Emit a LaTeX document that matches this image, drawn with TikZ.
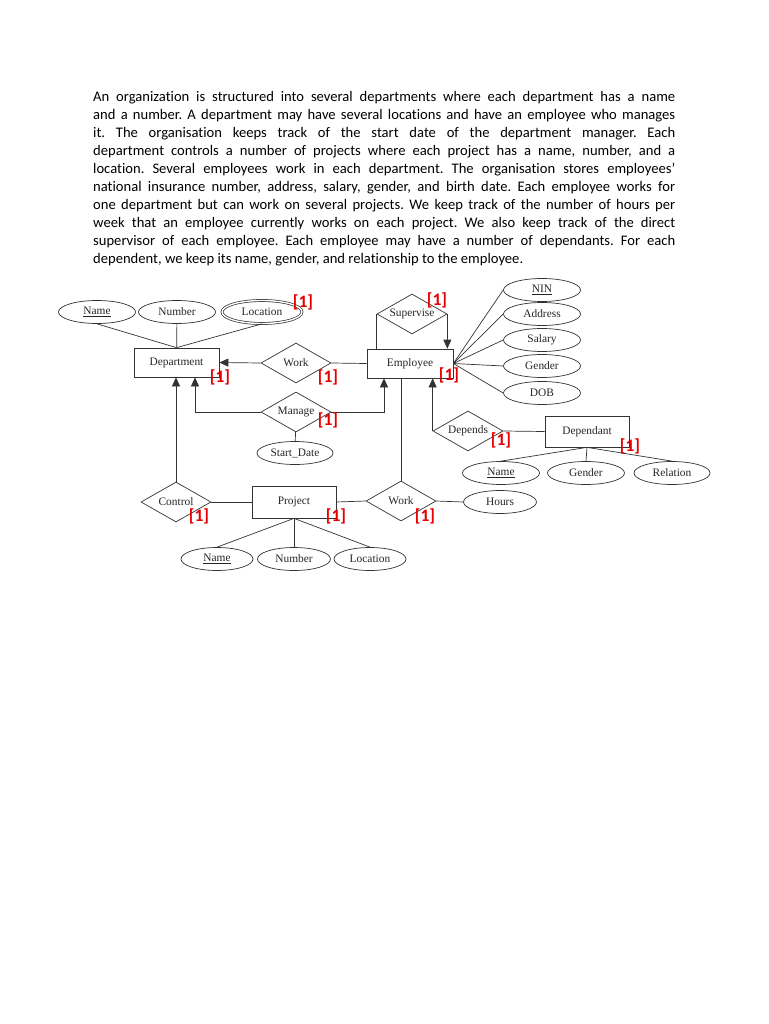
\documentclass[tikz,border=0pt]{standalone}
\usepackage{fontspec}
\setmainfont{Carlito}[Ligatures=NoCommon]
\newfontfamily\erfont{Liberation Serif}
\usetikzlibrary{positioning,arrows.meta,shapes.geometric}

\begin{document}
\begin{tikzpicture}[x=1pt, y=-1pt,
  para/.style = {anchor=north west, text width=582pt, align=justify,
                 inner sep=0pt, font=\frenchspacing\fontsize{14.6}{17.95}\selectfont},
  ent/.style  = {draw=black!80, line width=0.7pt, minimum width=85pt,
                 minimum height=29pt, inner sep=0pt, text=black!85,
                 font=\erfont\fontsize{11.4}{13}\selectfont},
  rel/.style  = {ent, diamond, aspect=1.75, minimum width=70pt,
                 minimum height=40pt},
  att/.style  = {ent, ellipse, minimum width=77pt, minimum height=23pt},
  multi/.style= {att, double, double distance=1.4pt, minimum width=80pt},
  tag/.style  = {text=red!90!black, inner sep=0pt,
                 font=\bfseries\fontsize{17.5}{17.5}\selectfont},
  e/.style    = {draw=black!80, line width=0.7pt},
  arr/.style  = {e, -{Triangle[length=9pt,width=8pt]}}]

\fill[white] (0,0) rectangle (768,1024);

% --- task text --------------------------------------------------------
\node[para] (txt) at (93,91.5) {An organization is structured into several departments where each department has a name\linebreak
and a number. A department may have several locations and have an employee who manages\linebreak
it. The organisation keeps track of the start date of the department manager. Each\linebreak
department controls a number of projects where each project has a name, number, and a\linebreak
location. Several employees work in each department. The organisation stores employees’\linebreak
national insurance number, address, salary, gender, and birth date. Each employee works for\linebreak
one department but can work on several projects. We keep track of the number of hours per\linebreak
week that an employee currently works on each project. We also keep track of the direct\linebreak
supervisor of each employee. Each employee may have a number of dependants. For each\linebreak
dependent, we keep its name, gender, and relationship to the employee.};

% --- entities ---------------------------------------------------------
\node[ent] (dept) at (176.5,362.5) {Department};
\node[ent, minimum width=86pt] (emp) at (410,363.5) {Employee};
\node[ent, minimum width=84pt, minimum height=32pt] (proj) at (294,502) {Project};
\node[ent, minimum width=84pt, minimum height=31pt] (depd) at (587,431.5) {Dependant};

% --- relationships ----------------------------------------------------
\node[rel] (work)    at (296,363) {Work};
\node[rel] (sup)     at (412,314) {Supervise};
\node[rel] (manage)  at (296,412) {Manage};
\node[rel] (depends) at (468,431) {Depends};
\node[rel] (control) at (176,502) {Control};
\node[rel] (work2)   at (401,501) {Work};

% --- attributes -------------------------------------------------------
\node[att]   (dname) at (97,312)  {\underline{Name}};
\node[att]   (dnum)  at (177,312) {Number};
\node[multi] (dloc)  at (262,312) {Location};
\node[att] (nin)  at (542,290) {\underline{NIN}};
\node[att] (addr) at (542,314) {Address};
\node[att] (sal)  at (542,340) {Salary};
\node[att] (egen) at (542,366) {Gender};
\node[att] (dob)  at (542,393) {DOB};
\node[att, minimum width=76pt] (sdate) at (295,453) {Start\_Date};
\node[att, minimum width=73pt] (hours) at (500,502) {Hours};
\node[att, minimum width=72pt] (pname) at (217,559) {\underline{Name}};
\node[att, minimum width=73pt] (pnum)  at (294,559) {Number};
\node[att, minimum width=72pt] (ploc)  at (370,559) {Location};
\node[att] (dpname) at (501,473) {\underline{Name}};
\node[att] (dpgen)  at (586,473) {Gender};
\node[att, minimum width=76pt] (dprel) at (672,473) {Relation};

% --- edges ------------------------------------------------------------
\draw[e] (dname.south) -- (dept.north);
\draw[e] (dnum) -- (dept);
\draw[e] (dloc.south) -- (dept.north);
\draw[arr] (work.west) -- (dept.east);
\draw[e] (work.east) -- (emp.west);
\draw[e] (sup.west) -- (sup.west |- emp.north);
\draw[arr] (sup.east) -- (sup.east |- emp.north);
\foreach \a in {nin,addr,sal,egen,dob}
  \draw[e] (emp.east) -- (\a.west);
\draw[arr] (manage.west) -| ([xshift=18.5pt]dept.south);
\draw[arr] (manage.east) -| ([xshift=-26pt]emp.south);
\draw[e] (manage) -- (sdate);
\draw[arr] (control.north) -- (control.north |- dept.south);
\draw[e] (control.east) -- (proj.west);
\draw[e] (proj.east) -- (work2.west);
\draw[e] (work2.north) -- (work2.north |- emp.south);
\draw[e] (work2.east) -- (hours.west);
\foreach \a in {pname,pnum,ploc}
  \draw[e] (proj.south) -- (\a.north);
\draw[arr] (depends.west) -- (depends.west |- emp.south);
\draw[e] (depends.east) -- (depd.west);
\foreach \a in {dpname,dpgen,dprel}
  \draw[e] (depd.south) -- (\a.north);

% --- marks ------------------------------------------------------------
\node[tag] (t1)  at (303,302) {[1]};
\node[tag] (t2)  at (220,377) {[1]};
\node[tag] (t3)  at (328,377) {[1]};
\node[tag] (t4)  at (437,300) {[1]};
\node[tag] (t5)  at (449,375) {[1]};
\node[tag] (t6)  at (328,420) {[1]};
\node[tag] (t7)  at (501,440) {[1]};
\node[tag] (t8)  at (630,446) {[1]};
\node[tag] (t9)  at (199,516) {[1]};
\node[tag] (t10) at (336,516) {[1]};
\node[tag] (t11) at (425,516) {[1]};

\useasboundingbox (0,0) rectangle (768,1024);
\end{tikzpicture}
\end{document}
